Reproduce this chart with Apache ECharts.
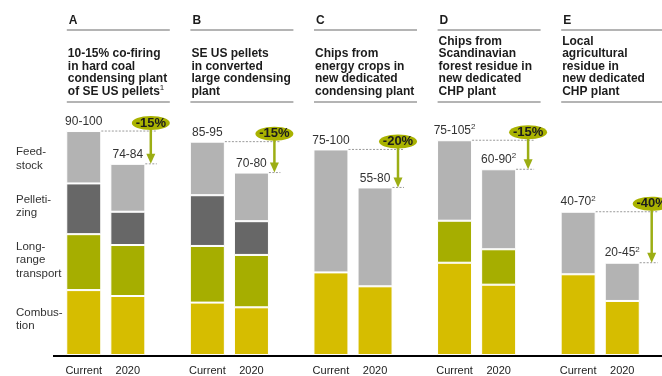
<!DOCTYPE html>
<html>
<head>
<meta charset="utf-8">
<script src="https://cdn.jsdelivr.net/npm/echarts@6.0.0/dist/echarts.min.js"></script>
<style>
  html, body { margin: 0; padding: 0; background: #fff; }
  #chart { width: 662px; height: 376px; }
</style>
</head>
<body>
<div id="chart"></div>
<script>
// Supply chains compared, cost per segment (stacked), current vs 2020
const letters = ['A', 'B', 'C', 'D', 'E'];
const titles = [
  ['10-15% co-firing', 'in hard coal', 'condensing plant', 'of SE US pellets{s|1}'],
  ['SE US pellets', 'in converted', 'large condensing', 'plant'],
  ['Chips from', 'energy crops in', 'new dedicated', 'condensing plant'],
  ['Chips from', 'Scandinavian', 'forest residue in', 'new dedicated', 'CHP plant'],
  ['Local', 'agricultural', 'residue in', 'new dedicated', 'CHP plant']
];
const periods = ['Current', '2020'];
const rowLabels = ['Feed-\nstock', 'Pelleti-\nzing', 'Long-\nrange\ntransport', 'Combus-\ntion'];

const combustionCur  = [27.5, 22.2, 35.0, 39.1, 34.2];
const combustion2020 = [25.0, 20.2, 29.1, 29.8, 22.9];
const transportCur   = [23.7, 24.0, null, 17.8, null];
const transport2020  = [21.6, 22.2, null, 15.0, null];
const pelletCur      = [21.5, 21.5, null, null, null];
const pellet2020     = [14.1, 14.3, null, null, null];
const feedCur        = [22.2, 22.7, 52.1, 34.1, 26.5];
const feed2020       = [20.3, 20.6, 41.9, 33.9, 16.2];

const rangeCur  = ['90-100', '85-95', '75-100', '75-105', '40-70'];
const range2020 = ['74-84', '70-80', '55-80', '60-90', '20-45'];
const footnote  = ['', '', '', '2', '2'];
const changes   = ['-15%', '-15%', '-20%', '-15%', '-40%'];

const FONT = "'Liberation Sans', Arial, sans-serif";
const C_FEED = '#b3b3b3';
const C_PELLET = '#676767';
const C_TRANSPORT = '#a6ae00';
const C_COMBUSTION = '#d6bd00';
const C_BADGE = '#a9b200';
const C_ARROW = '#9cae14';

const sum = (...cols) => letters.map((_, i) => cols.reduce((s, c) => s + (c[i] || 0), 0));
const totalCur = sum(combustionCur, transportCur, pelletCur, feedCur);
const total2020 = sum(combustion2020, transport2020, pellet2020, feed2020);

const supRich = { s: { fontSize: 8, fontFamily: FONT, padding: [0, 0, 6, 0], color: '#333' } };

function bar(stack, data, color, extra) {
  return Object.assign({
    type: 'bar',
    stack: stack,
    data: data.map(v => (v == null ? '-' : v)),
    barWidth: 35,
    barGap: '26%',
    itemStyle: { color: color, borderColor: '#fff', borderWidth: 1 },
    emphasis: { disabled: true },
    animation: false
  }, extra || {});
}

function bottomLabel(text) {
  return {
    label: {
      show: true, position: 'bottom', distance: 10,
      formatter: text, fontFamily: FONT, fontSize: 11, color: '#222'
    }
  };
}

function topLabel(ranges) {
  return {
    label: {
      show: true, position: 'top', distance: 3,
      formatter: p => ranges[p.dataIndex] + (footnote[p.dataIndex] ? '{s|' + footnote[p.dataIndex] + '}' : ''),
      fontFamily: FONT, fontSize: 12, color: '#333',
      rich: supRich
    }
  };
}

const series = [
  bar('cur', combustionCur, C_COMBUSTION, bottomLabel(periods[0])),
  bar('cur', transportCur, C_TRANSPORT),
  bar('cur', pelletCur, C_PELLET),
  bar('cur', feedCur, C_FEED, topLabel(rangeCur)),
  bar('fut', combustion2020, C_COMBUSTION, bottomLabel(periods[1])),
  bar('fut', transport2020, C_TRANSPORT),
  bar('fut', pellet2020, C_PELLET),
  bar('fut', feed2020, C_FEED, topLabel(range2020)),
  {
    type: 'custom',
    silent: true,
    animation: false,
    z: 10,
    clip: false,
    encode: { x: 0, y: 1 },
    data: letters.map((_, i) => [i, totalCur[i], total2020[i]]),
    renderItem: function (params, api) {
      const i = api.value(0);
      const p1 = api.coord([i, api.value(1)]);
      const p2 = api.coord([i, api.value(2)]);
      const cx = p1[0];
      const y1 = p1[1];
      const y2 = p2[1];
      const futRight = cx + 39.5;
      const ax = futRight + (footnote[i] ? 12 : 5.5);
      const dotted = { stroke: '#9a9a9a', lineWidth: 1, lineDash: [2, 1.5] };
      return {
        type: 'group',
        children: [
          { type: 'line', shape: { x1: cx - 4.5, y1: y1, x2: ax + 6, y2: y1 }, style: dotted },
          { type: 'line', shape: { x1: futRight, y1: y2, x2: ax + 6, y2: y2 }, style: dotted },
          { type: 'line', shape: { x1: ax, y1: y1 - 2, x2: ax, y2: y2 - 8 }, style: { stroke: C_ARROW, lineWidth: 2.5 } },
          { type: 'polygon', shape: { points: [[ax - 4.5, y2 - 10], [ax + 4.5, y2 - 10], [ax, y2]] }, style: { fill: C_ARROW } },
          { type: 'ellipse', shape: { cx: ax, cy: y1 - 8, rx: 19, ry: 7 }, style: { fill: C_BADGE } },
          {
            type: 'text', x: ax, y: y1 - 8,
            style: {
              text: changes[i], fill: '#1c1c1c', align: 'center', verticalAlign: 'middle',
              font: 'bold 13px ' + FONT
            }
          }
        ]
      };
    }
  }
];

const chart = echarts.init(document.getElementById('chart'), null, { renderer: 'canvas' });
chart.setOption({
  backgroundColor: '#fff',
  animation: false,
  grid: { left: 44, right: 0, top: 119, bottom: 21 },
  xAxis: {
    type: 'category',
    data: letters,
    axisLine: { show: false },
    axisTick: { show: false },
    axisLabel: { show: false },
    splitLine: { show: false }
  },
  yAxis: { type: 'value', min: 0, max: 100, show: false },
  series: series
});

// Column headers, row captions and baseline
const graphic = [];
letters.forEach((letter, i) => {
  const cx = chart.convertToPixel({ xAxisIndex: 0 }, i);
  const left = cx - 39;
  graphic.push(
    { type: 'text', x: left + 2, y: 21, silent: true,
      style: { text: letter, font: 'bold 12px ' + FONT, fill: '#1c1c1c', verticalAlign: 'middle' } },
    { type: 'line', silent: true, shape: { x1: left, y1: 30, x2: left + 103, y2: 30 },
      style: { stroke: '#b4b4b4', lineWidth: 2 } },
    { type: 'text', x: left + 1, y: 97.5, silent: true,
      style: { text: titles[i].join('\n'), font: 'bold 12px ' + FONT, fill: '#1c1c1c',
        verticalAlign: 'bottom', lineHeight: 12.5, rich: supRich } },
    { type: 'line', silent: true, shape: { x1: left, y1: 102, x2: left + 103, y2: 102 },
      style: { stroke: '#b4b4b4', lineWidth: 2 } }
  );
});
const rowY = [159, 206.5, 260, 319.5];
rowLabels.forEach((t, k) => {
  graphic.push({ type: 'text', x: 16, y: rowY[k], silent: true,
    style: { text: t, font: '11.5px ' + FONT, fill: '#333', verticalAlign: 'middle', lineHeight: 13.5 } });
});
graphic.push({ type: 'line', silent: true, shape: { x1: 53, y1: 356, x2: 662, y2: 356 },
  style: { stroke: '#000', lineWidth: 2 } });
chart.setOption({ graphic: graphic });
</script>
</body>
</html>
